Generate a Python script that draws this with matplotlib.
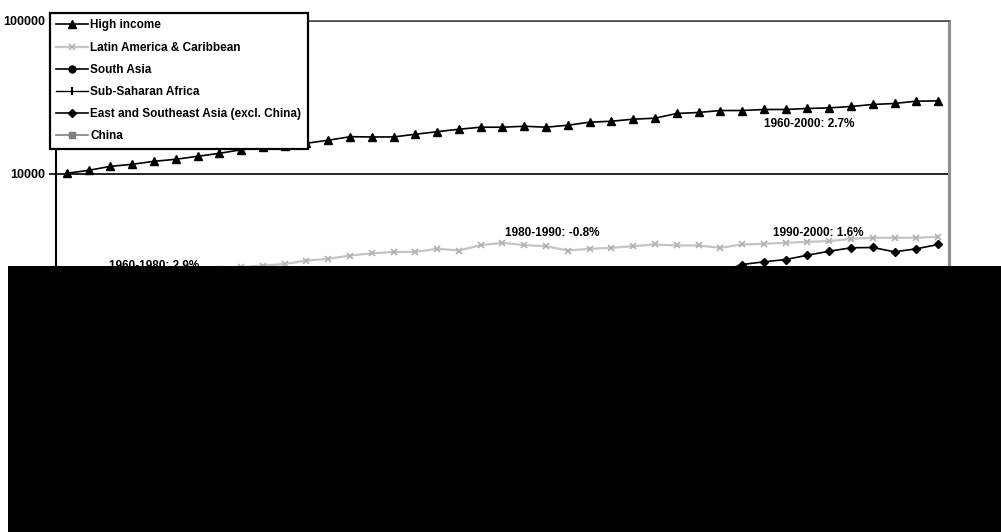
import matplotlib
matplotlib.use("Agg")
import matplotlib.pyplot as plt
from matplotlib.patches import Rectangle
from matplotlib.ticker import FixedLocator, FixedFormatter, NullLocator

plt.rcParams['font.family'] = ['Liberation Sans Narrow', 'Liberation Sans', 'DejaVu Sans']

years = list(range(1960, 2001))

high_income = [10080, 10540, 11190, 11540, 12070, 12440, 13010, 13610, 14350, 14900,
               15200, 15830, 16560, 17460, 17400, 17400, 18120, 18820, 19540, 20140,
               20140, 20440, 20140, 20750, 21710, 22040, 22710, 23060, 24750, 25120,
               25880, 25880, 26280, 26280, 26680, 26920, 27490, 28330, 28770, 29780,
               29910]

latin_america = [2005, 2090, 2120, 2190, 2240, 2300, 2360, 2400, 2460, 2523,
                 2582, 2720, 2790, 2933, 3033, 3091, 3100, 3244, 3162, 3425,
                 3551, 3425, 3374, 3162, 3244, 3293, 3374, 3461, 3410, 3410,
                 3293, 3461, 3498, 3551, 3605, 3638, 3772, 3828, 3828, 3828,
                 3886]

south_asia = [700, 720, 720, 740, 760, 740, 730, 770, 790, 810,
              830, 820, 800, 800, 810, 850, 840, 870, 900, 870,
              900, 940, 950, 990, 1010, 1040, 1070, 1090, 1150, 1190,
              1230, 1230, 1260, 1300, 1350, 1410, 1470, 1500, 1560, 1620,
              1660]

sub_saharan = [1280, 1300, 1310, 1360, 1390, 1420, 1410, 1440, 1460, 1500,
               1560, 1590, 1600, 1640, 1690, 1660, 1720, 1700, 1680, 1700,
               1720, 1700, 1660, 1600, 1550, 1560, 1560, 1540, 1560, 1550,
               1530, 1490, 1440, 1400, 1390, 1400, 1430, 1440, 1430, 1420,
               1440]

east_se_asia = [780, 800, 830, 850, 880, 920, 950, 990, 1030, 1080,
                1130, 1170, 1220, 1290, 1330, 1360, 1430, 1500, 1580, 1650,
                1700, 1740, 1780, 1820, 1850, 1860, 1900, 1960, 2040, 2150,
                2300, 2562, 2668, 2762, 2945, 3128, 3293, 3308, 3100, 3244,
                3461]

china = [440, 400, 330, 350, 390, 430, 460, 430, 410, 450,
         520, 530, 530, 560, 560, 590, 570, 620, 690, 730,
         780, 810, 880, 960, 1070, 1180, 1260, 1380, 1500, 1540,
         1560, 1680, 1850, 1980, 2080, 2150, 2200, 2230, 2240, 2250,
         2260]

growth_notes = [
    ("1960-1980: 2.9%", 1964.0, 2523),
    ("1980-1990: -0.8%", 1982.3, 4083),
    ("1990-2000: 1.6%", 1994.5, 4127),
    ("1960-2000: 2.7%", 1994.1, 21060),
]

y_ticks = [100, 1000, 10000, 100000]
y_labels = ["100", "1000", "10000", "100000"]

W, H = 1001, 532
fig = plt.figure(figsize=(W / 100, H / 100), dpi=100)
ax = fig.add_axes([56 / W, 1 - 480.5 / H, (949 - 56) / W, (480.5 - 20.5) / H])

ax.plot(years, high_income, color='black', lw=1.2, marker='^', ms=6,
        mfc='black', mec='black', label='High income', zorder=5)
ax.plot(years, latin_america, color='#c4c4c4', lw=1.6, marker='x', ms=5,
        mew=1.2, mec='#b0b0b0', label='Latin America & Caribbean', zorder=4)
ax.plot(years, south_asia, color='black', lw=1.2, marker='o', ms=5,
        mfc='black', mec='black', label='South Asia', zorder=4)
ax.plot(years, sub_saharan, color='black', lw=1.0, marker='|', ms=6,
        mew=1.5, mec='black', label='Sub-Saharan Africa', zorder=4)
ax.plot(years, east_se_asia, color='black', lw=1.2, marker='D', ms=4.5,
        mfc='black', mec='black', label='East and Southeast Asia (excl. China)', zorder=4)
ax.plot(years, china, color='#808080', lw=1.2, marker='s', ms=5,
        mfc='#808080', mec='#808080', label='China', zorder=4)

ax.set_yscale('log')
ax.set_ylim(100, 100000)
ax.set_xlim(1959.5, 2000.5)

ax.yaxis.set_major_locator(FixedLocator(y_ticks))
ax.yaxis.set_major_formatter(FixedFormatter(y_labels))
ax.yaxis.set_minor_locator(NullLocator())
ax.set_xticks(years[::5])
ax.tick_params(axis='y', direction='out', length=5, width=1.2, pad=3,
               labelsize=9, colors='black')
for lab in ax.get_yticklabels():
    lab.set_fontweight('bold')
ax.tick_params(axis='x', labelsize=8.5)

ax.grid(axis='y', which='major', color='black', lw=1.2, zorder=1)
ax.set_axisbelow(True)
ax.spines['left'].set_color('black')
ax.spines['left'].set_linewidth(1.5)
ax.spines['top'].set_color('#505050')
ax.spines['top'].set_linewidth(1.2)
ax.spines['right'].set_color('#909090')
ax.spines['right'].set_linewidth(2.2)
ax.spines['bottom'].set_color('black')

for text, x, y in growth_notes:
    ax.text(x, y, text, ha='center', va='center', fontsize=8.5,
            fontweight='bold', color='black', zorder=6)

leg = ax.legend(loc='upper left', bbox_to_anchor=(50 / W, 1 - 13 / H),
                bbox_transform=fig.transFigure, borderaxespad=0,
                fancybox=False, framealpha=1, edgecolor='black',
                prop={'size': 8.5, 'weight': 'bold'},
                handlelength=2.7, handletextpad=0.15, labelspacing=0.86,
                borderpad=0.55)
leg.get_frame().set_linewidth(1.6)
leg.set_zorder(10)

# solid block across the lower part of the figure
fig.patches.append(Rectangle((8 / W, 0), (W - 8) / W, 1 - 265.5 / H,
                             transform=fig.transFigure, facecolor='black',
                             edgecolor='none', zorder=20))

fig.savefig('out.png', dpi=100)
